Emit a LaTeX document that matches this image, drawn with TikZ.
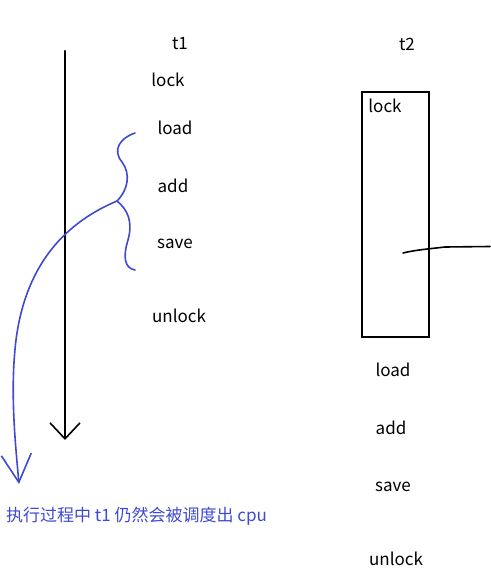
\documentclass[tikz,border=0pt]{standalone}
\usepackage{fontspec}
\setmainfont{Noto Sans CJK SC}
\usetikzlibrary{arrows.meta}

\begin{document}
\begin{tikzpicture}[
    x=1pt, y=-1pt,
    node font=\fontsize{17}{20}\selectfont,
    step text/.style={inner sep=0pt, anchor=center},
    pen/.style={line width=1.6pt, line cap=round, line join=round},
    ink blue/.style={pen, color=blueink},
    barb/.style={-{Straight Barb[length=#1, width=30pt, line width=1.6pt]}},
]
\definecolor{blueink}{RGB}{62,74,210}

% Canvas
\useasboundingbox (0,0) rectangle (490,583);

% Thread 1
\node[step text] (t1) at (180,44) {t1};
\node[step text] (lock1) at (168,80) {lock};
\node[step text] (load1) at (175,128) {load};
\node[step text] (add1) at (173,186) {add};
\node[step text] (save1) at (175,244) {save};
\node[step text] (unlock1) at (179,316) {unlock};

% Time axis
\coordinate (axtop) at (65,51);
\coordinate (axbot) at (65,440);
\draw[pen, line width=2.4pt, barb=16pt] (axtop) -- (axbot);

% Thread 2
\node[step text] (t2) at (407,44) {t2};
\node[draw, line width=2.4pt, minimum width=67pt, minimum height=245pt,
      inner sep=0pt] (lockbox) at (395.5,214.5) {};
\node[step text] (lock2) at (385,106) {lock};
\node[step text] (load2) at (393,370) {load};
\node[step text] (add2) at (391,428) {add};
\node[step text] (save2) at (393,487) {save};
\node[step text] (unlock2) at (396,559) {unlock};

% Waiting mark
\coordinate (waitin) at (403,253);
\coordinate (waitout) at (490,246.5);
\draw[pen] (waitin) .. controls (415,250) and (428,249) .. (445,247) -- (waitout);

% Brace over load/add/save
\coordinate (cusp) at (117,201);
\draw[ink blue] (135,133) .. controls (120,138) and (112,150) .. (122,162)
    .. controls (131,174) and (128,190) .. (cusp)
    .. controls (128,210) and (133,222) .. (128,240)
    .. controls (123,256) and (124,268) .. (135,270);

% Scheduled out
\draw[ink blue, barb=28pt] (cusp) .. controls (60,225) and (25,270) .. (16,340)
    .. controls (10,390) and (15,440) .. (19,484);
\node[anchor=west, inner sep=0pt, text=blueink] (note) at (6,516)
    {执行过程中 t1 仍然会被调度出 cpu};

\end{tikzpicture}
\end{document}
